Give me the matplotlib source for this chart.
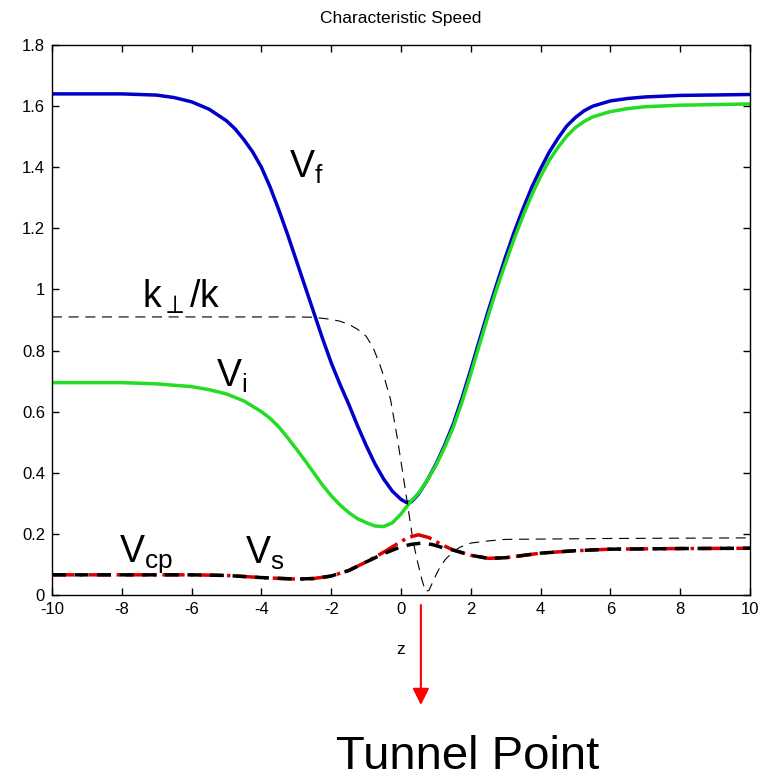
import matplotlib
matplotlib.use("Agg")
import matplotlib.pyplot as plt
import numpy as np

plt.rcParams['font.family'] = ['Liberation Sans', 'DejaVu Sans']
plt.rcParams['mathtext.fontset'] = 'custom'
plt.rcParams['mathtext.rm'] = 'Liberation Sans'
plt.rcParams['mathtext.it'] = 'Liberation Sans'

# fast speed V_f
z_f = [-10, -8, -7, -6.5, -6, -5.5, -5, -4.75, -4.5, -4.25, -4, -3.75, -3.5, -3.25,
       -3, -2.75, -2.5, -2.25, -2, -1.75, -1.5, -1.25, -1, -0.75, -0.5, -0.25,
       0, 0.15, 0.3, 0.5, 0.75, 1, 1.25, 1.5, 1.75, 2, 2.25, 2.5, 2.75, 3, 3.25,
       3.5, 3.75, 4, 4.25, 4.5, 4.75, 5, 5.25, 5.5, 6, 6.5, 7, 8, 10]
v_f = [1.640, 1.640, 1.636, 1.628, 1.614, 1.590, 1.552, 1.525, 1.490, 1.450, 1.400,
       1.335, 1.260, 1.180, 1.095, 1.010, 0.925, 0.840, 0.760, 0.690, 0.625, 0.555,
       0.490, 0.430, 0.380, 0.340, 0.313, 0.303, 0.305, 0.330, 0.375, 0.428, 0.490,
       0.560, 0.645, 0.738, 0.835, 0.930, 1.020, 1.108, 1.190, 1.265, 1.335, 1.395,
       1.450, 1.495, 1.535, 1.563, 1.585, 1.600, 1.617, 1.625, 1.630, 1.635, 1.638]

# intermediate speed V_i
z_i = [-10, -8, -7, -6, -5.5, -5, -4.5, -4, -3.75, -3.5, -3.25, -3, -2.75, -2.5,
       -2.25, -2, -1.75, -1.5, -1.25, -1, -0.75, -0.5, -0.25, 0, 0.25, 0.5, 0.75,
       1, 1.25, 1.5, 1.75, 2, 2.25, 2.5, 2.75, 3, 3.25, 3.5, 3.75, 4, 4.25, 4.5,
       4.75, 5, 5.25, 5.5, 6, 6.5, 7, 8, 10]
v_i = [0.695, 0.695, 0.691, 0.682, 0.672, 0.658, 0.635, 0.600, 0.578, 0.550, 0.515,
       0.478, 0.440, 0.400, 0.360, 0.325, 0.295, 0.270, 0.250, 0.237, 0.226, 0.224,
       0.236, 0.265, 0.302, 0.333, 0.375, 0.424, 0.483, 0.550, 0.632, 0.724, 0.820,
       0.915, 1.005, 1.088, 1.168, 1.242, 1.310, 1.370, 1.423, 1.465, 1.502, 1.530,
       1.550, 1.565, 1.582, 1.592, 1.598, 1.603, 1.607]

# k_perp / k
z_k = [-10, -3, -2.5, -2, -1.75, -1.5, -1.25, -1, -0.8, -0.6, -0.45, -0.3, -0.1,
       0.05, 0.17, 0.34, 0.45, 0.6, 0.7, 0.8, 0.9, 1.03, 1.15, 1.3, 1.5, 1.7, 2,
       2.5, 3, 6, 10]
v_k = [0.910, 0.910, 0.909, 0.902, 0.896, 0.886, 0.870, 0.847, 0.810, 0.752, 0.700,
       0.640, 0.510, 0.400, 0.310, 0.180, 0.120, 0.050, 0.012, 0.015, 0.040, 0.072,
       0.098, 0.120, 0.142, 0.157, 0.170, 0.177, 0.182, 0.185, 0.187]

# cusp speed V_cp
z_cp = [-10, -6, -5, -4, -3, -2.5, -2, -1.5, -1, -0.5, 0, 0.2, 0.5, 0.8, 1, 1.25,
        1.5, 2, 2.5, 3, 4, 5, 6, 8, 10]
v_cp = [0.066, 0.066, 0.064, 0.057, 0.052, 0.054, 0.062, 0.080, 0.108, 0.140, 0.175,
        0.188, 0.197, 0.188, 0.175, 0.160, 0.147, 0.130, 0.120, 0.122, 0.137, 0.145,
        0.150, 0.152, 0.153]

# slow speed V_s
z_s = [-10, -6, -5, -4, -3, -2.5, -2, -1.5, -1, -0.5, 0, 0.3, 0.6, 0.9, 1.2, 1.5,
       2, 2.5, 3, 4, 5, 6, 8, 10]
v_s = [0.066, 0.066, 0.064, 0.057, 0.052, 0.054, 0.062, 0.080, 0.108, 0.135, 0.158,
       0.166, 0.170, 0.165, 0.155, 0.147, 0.130, 0.120, 0.122, 0.137, 0.145, 0.150,
       0.152, 0.153]

x_ticks = np.arange(-10, 11, 2)
y_ticks = np.arange(0, 1.81, 0.2)

fig = plt.figure(figsize=(7.6, 7.84), dpi=100)
ax = fig.add_axes([52 / 760, 189 / 784, 698 / 760, 550 / 784])

ax.plot(z_f, v_f, color='#0000c8', lw=2.5)
ax.plot(z_i, v_i, color='#22dd22', lw=2.5)
ax.plot(z_k, v_k, color='black', lw=0.8, dashes=(9, 6))
ax.plot(z_cp, v_cp, color='#dd0000', lw=2.5, linestyle='-.')
ax.plot(z_s, v_s, color='black', lw=2.5, dashes=(4, 2.5))

ax.set_xlim(-10, 10)
ax.set_ylim(0, 1.8)
ax.set_xticks(x_ticks)
ax.set_xticklabels(['%g' % t for t in x_ticks])
ax.set_yticks(y_ticks)
ax.set_yticklabels(['%g' % round(t, 1) for t in y_ticks])
ax.tick_params(direction='in', length=5, width=1, top=True, right=True,
               labelsize=12, pad=5)
for s in ax.spines.values():
    s.set_linewidth(1.0)

ax.set_title('Characteristic Speed', fontsize=12.5, pad=16)
ax.set_xlabel('z', fontsize=12.5, labelpad=18)

# curve labels
ax.text(-2.7, 1.40, r'$\mathrm{V_f}$', fontsize=27, ha='center', va='center')
ax.text(-4.85, 0.715, r'$\mathrm{V_i}$', fontsize=27, ha='center', va='center')
ax.text(-6.3, 0.975, r'$\mathrm{k_{\perp}/k}$', fontsize=27, ha='center', va='center')
ax.text(-7.3, 0.135, r'$\mathrm{V_{cp}}$', fontsize=27, ha='center', va='center')
ax.text(-3.9, 0.135, r'$\mathrm{V_s}$', fontsize=27, ha='center', va='center')

# tunnel point marker
ax.annotate('', xy=(0.57, 79), xytext=(0.57, 179),
            xycoords=('data', 'figure pixels'), textcoords=('data', 'figure pixels'),
            arrowprops=dict(arrowstyle='-|>', color='red', lw=1.5,
                            mutation_scale=25, shrinkA=0, shrinkB=0))
fig.text(468 / 760, 27 / 784, 'Tunnel Point', fontsize=34, ha='center', va='center')

fig.savefig('out.png', dpi=100)
